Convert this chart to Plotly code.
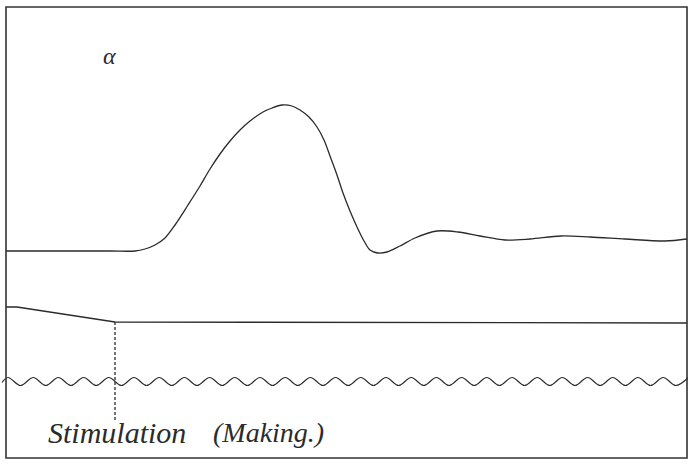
import plotly.graph_objects as go

# Recording drum: time runs left to right in drum units, deflection downward.
# Muscle curve (lever trace)
curve_t = [6, 60, 110, 135, 145, 155, 165, 175, 188, 200, 210, 220, 230, 240,
           250, 263, 272, 282, 292, 300, 309, 317, 324, 330, 337, 343, 350,
           357, 364, 370, 378, 387, 400, 415, 437, 458, 480, 505,
           530, 561, 590, 625, 665, 687]
curve_y = [251, 251, 251, 251, 249, 245, 238, 225, 205, 186, 169, 154, 141, 130,
           121, 112, 108, 105, 106, 110, 117, 127, 140, 156, 175, 193, 211,
           227, 241, 250, 253, 252, 246, 238, 231, 232, 236, 240,
           239, 236, 237, 239, 241, 239]

# Signal line (drops when the circuit is made)
signal_t = [6, 17, 115, 687]
signal_y = [307, 307, 322, 323]

# Tuning-fork time marker: crest/trough positions
fork_start = 8
fork_period = 25.2
fork_end = 700
fork_mid = 381.5
fork_amp = 4.0

# Stimulus marker
stim_t = 115
stim_y = [322, 422]

fork_t, fork_y = [], []
k = 0
t = fork_start
while t <= fork_end:
    fork_t.append(t)
    fork_y.append(fork_mid - fork_amp if k % 2 == 0 else fork_mid + fork_amp)
    k += 1
    t = fork_start + k * fork_period / 2
fork_t = [2] + fork_t
fork_y = [fork_mid + 1] + fork_y

ink = "#2b2b2b"

fig = go.Figure()
fig.add_trace(go.Scatter(x=curve_t, y=curve_y, mode="lines",
                         line=dict(color=ink, width=1.3, shape="spline", smoothing=0.9),
                         hoverinfo="skip"))
fig.add_trace(go.Scatter(x=signal_t, y=signal_y, mode="lines",
                         line=dict(color=ink, width=1.3), hoverinfo="skip"))
fig.add_trace(go.Scatter(x=fork_t, y=fork_y, mode="lines",
                         line=dict(color=ink, width=1.2, shape="spline", smoothing=1.0),
                         hoverinfo="skip"))
fig.add_trace(go.Scatter(x=[stim_t, stim_t], y=stim_y, mode="lines",
                         line=dict(color=ink, width=1.3, dash="3px,2px"),
                         hoverinfo="skip"))

# Frame of the record
fig.add_shape(type="rect", x0=6, x1=687, y0=7, y1=458, xref="x", yref="y",
              line=dict(color="#333333", width=1.6))

fig.add_annotation(x=101, y=56, text="<i>α</i>", showarrow=False,
                   xanchor="left", yanchor="middle",
                   font=dict(family="Liberation Serif", size=24, color=ink))
fig.add_annotation(x=46, y=432, text="<i>Stimulation</i>", showarrow=False,
                   xanchor="left", yanchor="middle",
                   font=dict(family="Liberation Serif", size=30, color=ink))
fig.add_annotation(x=211, y=432, text="<i>(Making.)</i>", showarrow=False,
                   xanchor="left", yanchor="middle",
                   font=dict(family="Liberation Serif", size=28, color=ink))

fig.update_layout(
    width=688, height=464, autosize=False,
    margin=dict(l=0, r=0, t=0, b=0),
    paper_bgcolor="white", plot_bgcolor="white",
    showlegend=False,
    xaxis=dict(range=[0, 688], visible=False, fixedrange=True),
    yaxis=dict(range=[464, 0], visible=False, fixedrange=True),
)

fig.write_html("out.html")
